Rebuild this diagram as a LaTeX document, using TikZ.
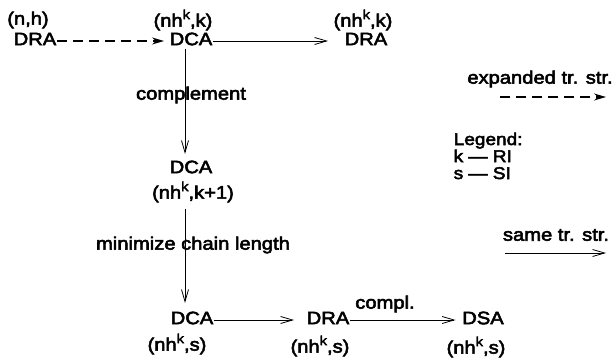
\documentclass[tikz,border=0pt]{standalone}
\usepackage{fontspec}
\setmainfont{Liberation Sans}[FakeStretch=1.12,FakeBold=3]
\usetikzlibrary{arrows.meta}
\newcommand{\supk}{\raisebox{0.42em}{\fontsize{13}{13}\selectfont k}}
\tikzset{
  txt/.style={inner sep=0.5pt, font=\fontsize{18}{19}\selectfont},
  solidarr/.style={line width=0.7pt, -{Straight Barb[length=12pt,width=7pt,line width=0.8pt]}},
  dasharr/.style={line width=1.3pt, dash pattern=on 10pt off 6pt,
                  -{Stealth[length=12pt,width=7pt]}},
}
\begin{document}
\begin{tikzpicture}[x=1pt,y=-1pt]
\useasboundingbox (0,0) rectangle (615,361);

% top row
\node[txt] (lnh) at (28,20) {(n,h)};
\node[txt] (dra1) at (35,39) {DRA};
\node[txt] (ldca1) at (183,20) {(nh\supk,k)};
\node[txt] (dca1) at (191,39) {DCA};
\node[txt] (ldra2) at (363,20) {(nh\supk,k)};
\node[txt] (dra2) at (366,39) {DRA};

\draw[dasharr, shorten >=5pt] ([yshift=-2pt]dra1.east) -- ([yshift=-2pt]dca1.west);
\draw[solidarr, shorten >=16pt] ([yshift=-2pt]dca1.east) -- ([yshift=-2pt]dra2.west);

% middle column
\coordinate (vx) at (185,0);
\node[txt] (lcompl) at (191,95) {complement};
\node[txt] (dca2) at (191,167) {DCA};
\node[txt] (ldca2) at (193,192) {(nh\supk,k+1)};
\node[txt] (lmin) at (193,245) {minimize chain length};

% bottom row
\node[txt] (dca3) at (192,318) {DCA};
\node[txt] (ldca3) at (177,344) {(nh\supk,s)};
\node[txt] (dra3) at (328,318) {DRA};
\node[txt] (ldra3) at (320,346) {(nh\supk,s)};
\node[txt] (dsa) at (483,318) {DSA};
\node[txt] (ldsa) at (476,347) {(nh\supk,s)};
\node[txt] (lcompl2) at (385,304) {compl.};

\draw[solidarr] ([yshift=-3pt]dca1.south -| vx) -- ([yshift=6pt]dca2.north -| vx);
\draw[solidarr] ([yshift=-6pt]ldca2.south -| vx) -- ([yshift=8pt]dca3.north -| vx);

\draw[solidarr, shorten >=12pt] ([yshift=-2pt]dca3.east) -- ([yshift=-2pt]dra3.west);
\draw[solidarr, shorten >=6pt] ([yshift=-2pt]dra3.east) -- ([yshift=-2pt]dsa.west);

% key to the arrow styles and indices
\node[txt] (lexp) at (540,79) {expanded tr. str.};
\coordinate (e1) at (500,97);
\coordinate (e2) at (606,97);
\draw[dasharr] (e1) -- (e2);

\node[txt, anchor=north west, align=left, font=\fontsize{17}{17}\selectfont]
  (legend) at (453,132) {Legend:\\k --- RI\\s --- SI};

\node[txt] (lsame) at (556,235) {same tr. str.};
\coordinate (s1) at (505,253);
\coordinate (s2) at (606,253);
\draw[solidarr] (s1) -- (s2);
\end{tikzpicture}
\end{document}
